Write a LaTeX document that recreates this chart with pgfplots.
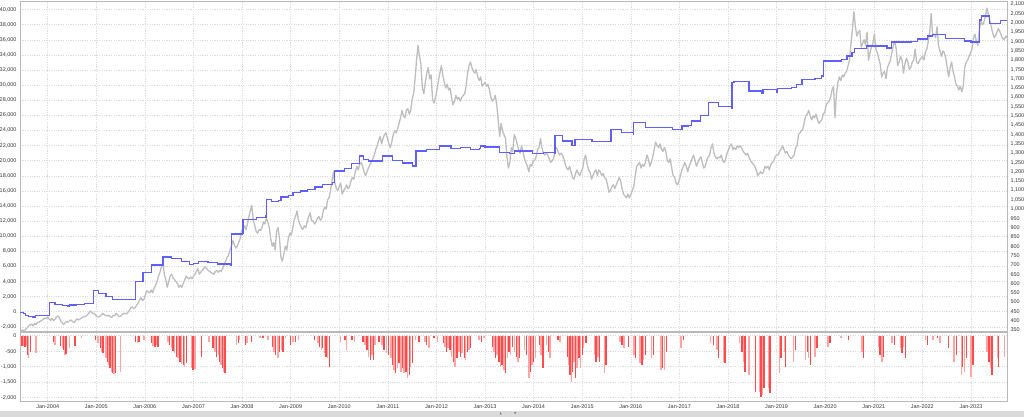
\documentclass[border=0pt]{standalone}
\usepackage{pgfplots}
\pgfplotsset{compat=1.18}
\usepackage{pgfplotstable}
\usepackage{fontspec}
\setmainfont{Liberation Sans}
\newfontfamily\symfont{DejaVu Sans}
\definecolor{eqblue}{RGB}{95,95,250}
\definecolor{goldgray}{RGB}{190,190,190}
\definecolor{ddred}{RGB}{255,75,75}
\definecolor{ddpink}{RGB}{255,165,165}
\definecolor{gridc}{RGB}{222,222,222}
\definecolor{framec}{RGB}{185,185,185}
\definecolor{labc}{RGB}{55,55,55}
\definecolor{scrollc}{RGB}{218,218,218}

\pgfplotstableread{
t v
2003.43 -100
2003.50 -250
2003.55 -500
2003.60 -650
2003.70 -700
2003.75 -500
2004.02 -500
2004.03 1250
2004.15 1000
2004.30 850
2004.40 750
2004.45 900
2004.60 1000
2004.75 1100
2004.94 1100
2004.95 2800
2005.05 2400
2005.20 2000
2005.34 1600
2005.79 1600
2005.80 4000
2005.95 4000
2005.96 5200
2006.12 5200
2006.13 6200
2006.36 6200
2006.37 7250
2006.55 7000
2006.75 6600
2006.92 6250
2007.00 6400
2007.10 6600
2007.30 6500
2007.50 6300
2007.77 6100
2007.78 10300
2008.00 10400
2008.02 12200
2008.30 12500
2008.49 12700
2008.50 14900
2008.60 14600
2008.75 14700
2008.80 15200
2008.95 15400
2009.05 15800
2009.20 15970
2009.35 16200
2009.50 16500
2009.65 16800
2009.86 17080
2009.90 18620
2010.10 19000
2010.25 19600
2010.41 20600
2010.50 20200
2010.60 19940
2010.88 19940
2010.89 20600
2011.10 20000
2011.30 19700
2011.50 19280
2011.57 19300
2011.58 21270
2011.80 21500
2012.06 21930
2012.30 21600
2012.50 21700
2012.70 21500
2012.88 21600
2012.90 21930
2013.00 21800
2013.30 21050
2013.50 20900
2013.60 21270
2013.97 20900
2014.20 21050
2014.43 20900
2014.44 23340
2014.60 22600
2014.79 22020
2014.85 22810
2015.20 22550
2015.58 22550
2015.59 24140
2015.80 23700
2016.05 23480
2016.06 25030
2016.30 24360
2016.85 24140
2017.05 24580
2017.19 24660
2017.25 25240
2017.43 26000
2017.60 27680
2017.80 27200
2018.07 26880
2018.08 30330
2018.12 30500
2018.43 29220
2018.70 28870
2018.72 29440
2019.00 29000
2019.02 29550
2019.30 29660
2019.41 30100
2019.52 30770
2019.79 30900
2019.93 31200
2019.96 33190
2020.34 33400
2020.45 33860
2020.55 34300
2020.60 34830
2020.79 34830
2020.85 35180
2021.10 35180
2021.27 34900
2021.37 35710
2021.78 35800
2021.90 36100
2022.10 36500
2022.20 36730
2022.47 36160
2022.87 35840
2023.00 35700
2023.17 35700
2023.18 38620
2023.22 39150
2023.30 39150
2023.38 38180
2023.55 38200
2023.60 38530
2023.74 38530
}\equity

\pgfplotstableread{
t p
2003.43 355
2003.46 346
2003.49 350
2003.52 345
2003.55 356
2003.58 362
2003.61 372
2003.64 378
2003.67 382
2003.70 372
2003.73 385
2003.76 380
2003.79 390
2003.82 392
2003.85 398
2003.88 402
2003.91 408
2003.94 415
2003.97 412
2004.00 420
2004.03 410
2004.06 402
2004.09 412
2004.12 400
2004.15 408
2004.18 420
2004.21 426
2004.24 418
2004.27 395
2004.30 388
2004.33 380
2004.36 390
2004.39 396
2004.42 392
2004.45 400
2004.48 404
2004.51 396
2004.54 390
2004.57 400
2004.60 410
2004.63 404
2004.66 408
2004.69 414
2004.72 418
2004.75 424
2004.78 422
2004.81 430
2004.84 438
2004.87 452
2004.90 446
2004.93 440
2004.96 438
2004.99 428
2005.02 422
2005.05 420
2005.08 426
2005.11 432
2005.14 440
2005.17 430
2005.20 428
2005.23 425
2005.26 430
2005.29 420
2005.32 418
2005.35 430
2005.38 426
2005.41 440
2005.44 430
2005.47 422
2005.50 425
2005.53 432
2005.56 438
2005.59 440
2005.62 436
2005.65 445
2005.68 455
2005.71 470
2005.74 474
2005.77 465
2005.80 470
2005.83 485
2005.86 495
2005.89 510
2005.92 525
2005.95 508
2005.98 515
2006.01 540
2006.04 560
2006.07 555
2006.10 550
2006.13 565
2006.16 550
2006.19 575
2006.22 590
2006.25 610
2006.28 640
2006.31 660
2006.34 690
2006.37 715
2006.40 650
2006.43 620
2006.46 580
2006.49 610
2006.52 640
2006.55 650
2006.58 630
2006.61 620
2006.64 610
2006.67 600
2006.70 580
2006.73 590
2006.76 580
2006.79 600
2006.82 620
2006.85 640
2006.88 630
2006.91 625
2006.94 635
2006.97 625
2007.00 640
2007.03 650
2007.06 665
2007.09 680
2007.12 650
2007.15 660
2007.18 670
2007.21 680
2007.24 690
2007.27 680
2007.30 670
2007.33 665
2007.36 660
2007.39 655
2007.42 650
2007.45 665
2007.48 670
2007.51 660
2007.54 670
2007.57 665
2007.60 680
2007.63 700
2007.66 720
2007.69 740
2007.72 750
2007.75 780
2007.78 800
2007.81 830
2007.84 810
2007.87 790
2007.90 800
2007.93 820
2007.96 840
2007.99 880
2008.02 900
2008.05 910
2008.08 890
2008.11 920
2008.14 960
2008.17 990
2008.20 1020
2008.23 940
2008.26 910
2008.29 880
2008.32 870
2008.35 890
2008.38 885
2008.41 900
2008.44 930
2008.47 920
2008.50 950
2008.53 930
2008.56 900
2008.59 840
2008.62 800
2008.65 820
2008.68 780
2008.71 880
2008.74 900
2008.77 840
2008.80 740
2008.83 720
2008.86 760
2008.89 800
2008.92 780
2008.95 840
2008.98 870
2009.01 860
2009.04 890
2009.07 940
2009.10 960
2009.13 990
2009.16 940
2009.19 920
2009.22 900
2009.25 890
2009.28 910
2009.31 900
2009.34 930
2009.37 960
2009.40 980
2009.43 940
2009.46 935
2009.49 920
2009.52 930
2009.55 950
2009.58 960
2009.61 940
2009.64 950
2009.67 990
2009.70 1010
2009.73 1000
2009.76 1050
2009.79 1060
2009.82 1100
2009.85 1150
2009.88 1200
2009.91 1140
2009.94 1110
2009.97 1100
2010.00 1120
2010.03 1140
2010.06 1080
2010.09 1100
2010.12 1110
2010.15 1130
2010.18 1110
2010.21 1120
2010.24 1150
2010.27 1170
2010.30 1160
2010.33 1200
2010.36 1230
2010.39 1210
2010.42 1240
2010.45 1250
2010.48 1230
2010.51 1200
2010.54 1180
2010.57 1200
2010.60 1220
2010.63 1240
2010.66 1250
2010.69 1270
2010.72 1290
2010.75 1320
2010.78 1340
2010.81 1370
2010.84 1390
2010.87 1350
2010.90 1380
2010.93 1400
2010.96 1410
2010.99 1380
2011.02 1350
2011.05 1330
2011.08 1360
2011.11 1400
2011.14 1420
2011.17 1410
2011.20 1430
2011.23 1460
2011.26 1490
2011.29 1530
2011.32 1500
2011.35 1490
2011.38 1530
2011.41 1540
2011.44 1510
2011.47 1530
2011.50 1590
2011.53 1620
2011.56 1700
2011.59 1800
2011.62 1880
2011.65 1820
2011.68 1780
2011.71 1650
2011.74 1620
2011.77 1680
2011.80 1730
2011.83 1760
2011.86 1700
2011.89 1720
2011.92 1590
2011.95 1570
2011.98 1600
2012.01 1640
2012.04 1690
2012.07 1730
2012.10 1770
2012.13 1720
2012.16 1680
2012.19 1650
2012.22 1670
2012.25 1640
2012.28 1650
2012.31 1600
2012.34 1560
2012.37 1580
2012.40 1610
2012.43 1590
2012.46 1600
2012.49 1580
2012.52 1600
2012.55 1610
2012.58 1620
2012.61 1660
2012.64 1730
2012.67 1770
2012.70 1790
2012.73 1760
2012.76 1740
2012.79 1730
2012.82 1750
2012.85 1710
2012.88 1690
2012.91 1710
2012.94 1660
2012.97 1670
2013.00 1680
2013.03 1660
2013.06 1670
2013.09 1640
2013.12 1600
2013.15 1580
2013.18 1590
2013.21 1610
2013.24 1560
2013.27 1480
2013.30 1390
2013.33 1460
2013.36 1420
2013.39 1400
2013.42 1380
2013.45 1280
2013.48 1220
2013.51 1250
2013.54 1330
2013.57 1310
2013.60 1400
2013.63 1380
2013.66 1350
2013.69 1320
2013.72 1300
2013.75 1340
2013.78 1310
2013.81 1270
2013.84 1250
2013.87 1230
2013.90 1200
2013.93 1240
2013.96 1230
2013.99 1260
2014.02 1260
2014.05 1280
2014.08 1320
2014.11 1330
2014.14 1380
2014.17 1330
2014.20 1300
2014.23 1290
2014.26 1300
2014.29 1290
2014.32 1270
2014.35 1250
2014.38 1260
2014.41 1270
2014.44 1320
2014.47 1330
2014.50 1310
2014.53 1290
2014.56 1300
2014.59 1290
2014.62 1270
2014.65 1240
2014.68 1220
2014.71 1210
2014.74 1230
2014.77 1200
2014.80 1170
2014.83 1160
2014.86 1190
2014.89 1210
2014.92 1190
2014.95 1180
2014.98 1200
2015.01 1220
2015.04 1270
2015.07 1290
2015.10 1240
2015.13 1210
2015.16 1200
2015.19 1160
2015.22 1180
2015.25 1200
2015.28 1210
2015.31 1180
2015.34 1210
2015.37 1200
2015.40 1180
2015.43 1190
2015.46 1170
2015.49 1160
2015.52 1130
2015.55 1090
2015.58 1100
2015.61 1120
2015.64 1130
2015.67 1110
2015.70 1130
2015.73 1150
2015.76 1170
2015.79 1150
2015.82 1110
2015.85 1080
2015.88 1070
2015.91 1060
2015.94 1080
2015.97 1060
2016.00 1080
2016.03 1100
2016.06 1120
2016.09 1180
2016.12 1230
2016.15 1240
2016.18 1250
2016.21 1220
2016.24 1240
2016.27 1230
2016.30 1250
2016.33 1290
2016.36 1270
2016.39 1230
2016.42 1250
2016.45 1280
2016.48 1320
2016.51 1360
2016.54 1340
2016.57 1330
2016.60 1350
2016.63 1320
2016.66 1310
2016.69 1330
2016.72 1310
2016.75 1260
2016.78 1250
2016.81 1270
2016.84 1220
2016.87 1180
2016.90 1170
2016.93 1140
2016.96 1130
2016.99 1150
2017.02 1180
2017.05 1210
2017.08 1230
2017.11 1250
2017.14 1230
2017.17 1200
2017.20 1230
2017.23 1250
2017.26 1270
2017.29 1290
2017.32 1260
2017.35 1230
2017.38 1250
2017.41 1270
2017.44 1280
2017.47 1250
2017.50 1220
2017.53 1230
2017.56 1260
2017.59 1280
2017.62 1290
2017.65 1330
2017.68 1350
2017.71 1300
2017.74 1280
2017.77 1270
2017.80 1280
2017.83 1275
2017.86 1290
2017.89 1260
2017.92 1250
2017.95 1270
2017.98 1300
2018.01 1320
2018.04 1340
2018.07 1350
2018.10 1320
2018.13 1330
2018.16 1320
2018.19 1340
2018.22 1330
2018.25 1340
2018.28 1330
2018.31 1310
2018.34 1300
2018.37 1290
2018.40 1300
2018.43 1280
2018.46 1260
2018.49 1250
2018.52 1240
2018.55 1230
2018.58 1210
2018.61 1180
2018.64 1190
2018.67 1200
2018.70 1190
2018.73 1200
2018.76 1230
2018.79 1220
2018.82 1230
2018.85 1210
2018.88 1240
2018.91 1250
2018.94 1260
2018.97 1280
2019.00 1290
2019.03 1290
2019.06 1310
2019.09 1320
2019.12 1340
2019.15 1320
2019.18 1300
2019.21 1310
2019.24 1290
2019.27 1280
2019.30 1270
2019.33 1280
2019.36 1290
2019.39 1330
2019.42 1340
2019.45 1400
2019.48 1410
2019.51 1420
2019.54 1430
2019.57 1470
2019.60 1500
2019.63 1510
2019.66 1530
2019.69 1500
2019.72 1480
2019.75 1500
2019.78 1490
2019.81 1510
2019.84 1480
2019.87 1460
2019.90 1470
2019.93 1480
2019.96 1510
2019.99 1520
2020.02 1560
2020.05 1570
2020.08 1580
2020.11 1600
2020.14 1640
2020.17 1660
2020.20 1490
2020.23 1620
2020.26 1680
2020.29 1710
2020.32 1690
2020.35 1720
2020.38 1710
2020.41 1730
2020.44 1740
2020.47 1770
2020.50 1800
2020.53 1890
2020.56 1970
2020.59 2060
2020.62 1980
2020.65 1930
2020.68 1950
2020.71 1960
2020.74 1870
2020.77 1890
2020.80 1910
2020.83 1880
2020.86 1950
2020.89 1800
2020.92 1840
2020.95 1870
2020.98 1890
2021.01 1940
2021.04 1860
2021.07 1840
2021.10 1810
2021.13 1780
2021.16 1710
2021.19 1730
2021.22 1740
2021.25 1700
2021.28 1760
2021.31 1780
2021.34 1800
2021.37 1840
2021.40 1880
2021.43 1900
2021.46 1860
2021.49 1770
2021.52 1790
2021.55 1820
2021.58 1800
2021.61 1730
2021.64 1780
2021.67 1810
2021.70 1790
2021.73 1750
2021.76 1760
2021.79 1790
2021.82 1800
2021.85 1860
2021.88 1790
2021.91 1780
2021.94 1800
2021.97 1810
2022.00 1820
2022.03 1800
2022.06 1840
2022.09 1860
2022.12 1900
2022.15 1950
2022.18 2050
2022.21 1930
2022.24 1940
2022.27 1920
2022.30 1980
2022.33 1880
2022.36 1850
2022.39 1820
2022.42 1850
2022.45 1840
2022.48 1810
2022.51 1760
2022.54 1710
2022.57 1760
2022.60 1790
2022.63 1740
2022.66 1710
2022.69 1670
2022.72 1660
2022.75 1640
2022.78 1660
2022.81 1630
2022.84 1660
2022.87 1760
2022.90 1790
2022.93 1800
2022.96 1820
2022.99 1840
2023.02 1860
2023.05 1920
2023.08 1940
2023.11 1900
2023.14 1880
2023.17 1960
2023.20 2010
2023.23 1990
2023.26 2000
2023.29 2030
2023.33 2080
2023.36 2040
2023.40 2000
2023.44 1950
2023.48 1920
2023.52 1940
2023.56 1970
2023.60 1950
2023.64 1920
2023.68 1910
2023.72 1930
2023.74 1920
}\gold

\pgfplotstableread{
t v
2003.45 -300
2003.47 -320
2003.50 -340
2003.53 -355
2003.56 -320
2003.58 -620
2003.61 -730
2003.64 -515
2003.76 -570
2004.12 -190
2004.15 -300
2004.27 -320
2004.30 -410
2004.33 -460
2004.36 -620
2004.38 -600
2004.45 -410
2004.56 -320
2004.70 -90
2004.99 -140
2005.04 -250
2005.08 -410
2005.11 -515
2005.14 -570
2005.20 -730
2005.23 -840
2005.25 -950
2005.28 -1050
2005.31 -1160
2005.34 -1215
2005.36 -1250
2005.39 -1215
2005.50 -1160
2005.81 -190
2005.85 -250
2005.88 -215
2005.98 -140
2006.14 -250
2006.17 -320
2006.21 -355
2006.24 -300
2006.27 -355
2006.48 -190
2006.51 -300
2006.55 -410
2006.58 -495
2006.61 -570
2006.65 -680
2006.68 -730
2006.72 -840
2006.75 -925
2006.79 -950
2006.82 -1000
2006.85 -890
2006.96 -1050
2006.99 -1110
2007.03 -1075
2007.16 -680
2007.32 -190
2007.40 -410
2007.44 -515
2007.47 -680
2007.51 -620
2007.54 -840
2007.57 -950
2007.60 -1050
2007.62 -1160
2007.65 -1215
2007.88 -300
2007.92 -250
2007.95 -140
2008.07 -300
2008.10 -250
2008.19 -190
2008.37 -90
2008.43 -65
2008.53 -140
2008.63 -355
2008.66 -515
2008.69 -620
2008.74 -730
2008.77 -515
2008.81 -460
2008.84 -515
2008.89 -90
2009.00 -300
2009.05 -190
2009.10 -215
2009.16 -140
2009.49 -140
2009.56 -250
2009.59 -355
2009.63 -460
2009.66 -410
2009.70 -570
2009.73 -680
2009.76 -730
2009.80 -1000
2010.03 -190
2010.12 -140
2010.15 -460
2010.26 -140
2010.31 -190
2010.49 -190
2010.53 -300
2010.57 -460
2010.60 -680
2010.64 -785
2010.67 -620
2010.70 -785
2010.74 -300
2010.82 -190
2010.88 -300
2010.92 -460
2010.97 -570
2011.01 -620
2011.06 -730
2011.10 -950
2011.13 -1110
2011.16 -1215
2011.20 -1050
2011.23 -890
2011.27 -1160
2011.30 -1050
2011.33 -1215
2011.37 -1160
2011.40 -1375
2011.44 -1270
2011.47 -1000
2011.51 -890
2011.57 -140
2011.64 -190
2011.76 -190
2011.79 -300
2011.85 -410
2011.95 -90
2012.02 -190
2012.14 -250
2012.18 -355
2012.21 -515
2012.24 -410
2012.28 -460
2012.31 -680
2012.35 -840
2012.38 -1000
2012.42 -730
2012.46 -515
2012.50 -680
2012.53 -570
2012.57 -730
2012.60 -785
2012.64 -515
2012.67 -460
2012.70 -410
2012.87 -140
2012.93 -190
2012.98 -90
2013.15 -355
2013.18 -515
2013.22 -730
2013.25 -620
2013.29 -840
2013.32 -1000
2013.35 -950
2013.39 -1110
2013.42 -1215
2013.46 -730
2013.49 -515
2013.52 -620
2013.56 -355
2013.61 -515
2013.64 -680
2013.68 -840
2013.71 -730
2013.81 -460
2013.85 -620
2013.90 -1375
2013.94 -1160
2013.97 -950
2014.00 -840
2014.04 -730
2014.12 -300
2014.15 -620
2014.19 -1050
2014.26 -300
2014.30 -515
2014.34 -730
2014.50 -140
2014.54 -190
2014.70 -680
2014.72 -950
2014.75 -1270
2014.78 -1480
2014.80 -1160
2014.83 -840
2014.86 -1375
2014.89 -1050
2014.93 -730
2014.96 -1050
2015.00 -620
2015.03 -410
2015.08 -250
2015.12 -355
2015.22 -410
2015.25 -620
2015.28 -840
2015.32 -680
2015.35 -840
2015.39 -785
2015.42 -1050
2015.46 -1215
2015.49 -950
2015.54 -1430
2015.58 -300
2015.78 -190
2015.82 -300
2015.86 -410
2015.95 -355
2015.99 -515
2016.02 -680
2016.06 -620
2016.09 -730
2016.13 -515
2016.16 -730
2016.19 -890
2016.23 -950
2016.26 -785
2016.30 -620
2016.34 -410
2016.38 -570
2016.42 -730
2016.46 -620
2016.54 -460
2016.58 -840
2016.62 -1110
2016.65 -1050
2016.69 -1110
2016.73 -515
2016.76 -300
2017.00 -730
2017.03 -410
2017.08 -140
2017.25 -250
2017.40 -140
2017.64 -250
2017.70 -300
2017.77 -460
2017.80 -730
2017.84 -620
2017.87 -785
2017.91 -840
2017.94 -890
2018.16 -90
2018.20 -190
2018.24 -250
2018.29 -515
2018.32 -840
2018.35 -1160
2018.38 -1375
2018.40 -1645
2018.43 -1270
2018.57 -1805
2018.60 -1860
2018.62 -1590
2018.66 -1805
2018.68 -1970
2018.71 -1915
2018.74 -1700
2018.77 -1480
2018.80 -1270
2018.83 -1700
2018.86 -1860
2019.01 -410
2019.03 -840
2019.06 -1215
2019.09 -730
2019.16 -515
2019.18 -1000
2019.22 -680
2019.32 -620
2019.35 -840
2019.39 -460
2019.53 -300
2019.56 -620
2019.59 -785
2019.63 -515
2019.66 -730
2019.70 -950
2019.73 -840
2019.76 -1110
2019.79 -680
2019.83 -410
2019.87 -515
2020.01 -140
2020.06 -355
2020.10 -250
2020.32 -90
2020.48 -140
2020.69 -190
2020.72 -355
2020.76 -515
2020.79 -730
2020.93 -250
2020.97 -410
2021.10 -355
2021.13 -620
2021.17 -840
2021.20 -680
2021.24 -785
2021.28 -515
2021.37 -250
2021.42 -300
2021.48 -300
2021.51 -460
2021.55 -410
2021.58 -570
2021.61 -355
2021.65 -730
2021.69 -515
2021.88 -90
2022.06 -140
2022.10 -300
2022.14 -410
2022.18 -250
2022.22 -140
2022.31 -90
2022.36 -250
2022.54 -410
2022.57 -570
2022.61 -730
2022.65 -840
2022.70 -620
2022.73 -950
2022.76 -1110
2022.80 -1270
2022.83 -1000
2022.87 -1160
2022.91 -730
2022.93 -1270
2022.97 -1215
2023.00 -1320
2023.04 -950
2023.12 -140
2023.17 -300
2023.33 -515
2023.37 -840
2023.40 -1050
2023.43 -1270
2023.47 -890
2023.50 -1000
2023.54 -730
2023.57 -1000
2023.61 -840
2023.65 -620
2023.69 -680
}\drawdown

\pgfplotsset{
  base/.style={
    scale only axis, width=987bp,
    xmin=2003.43, xmax=2023.74,
    xtick={2004,...,2023},
    scaled x ticks=false, scaled y ticks=false,
    major tick length=0pt, minor tick length=0pt,
    axis line style={framec, line width=0.6bp},
    tick label style={font=\fontsize{5.5}{6.5}\selectfont, text=labc},
    /pgf/number format/assume math mode=true,
    /pgf/number format/1000 sep={,},
    grid style={gridc, dash pattern=on 1.2bp off 1.2bp, line width=0.5bp},
  },
}

\begin{document}
\begin{tikzpicture}
\path[use as bounding box, fill=white] (0,0) rectangle (1024bp,-417bp);

% top panel: frame, grid, left ticks
\begin{axis}[base, at={(20bp,-1bp)}, anchor=north west, height=330.5bp,
  ymin=-2621, ymax=41137, ytick={-2000,0,...,40000},
  xticklabels={}, grid=major]
\end{axis}

% right axis: gold price
\begin{axis}[base, at={(20bp,-1bp)}, anchor=north west, height=330.5bp,
  ymin=342, ymax=2117.7, ytick={350,400,...,2100},
  axis x line=none, axis y line*=right]
\addplot[goldgray, line width=1.3bp, line join=round] table[x=t, y=p]{\gold};
\end{axis}

% left axis: equity (step line)
\begin{axis}[base, at={(20bp,-1bp)}, anchor=north west, height=330.5bp,
  ymin=-2621, ymax=41137, hide axis]
\addplot[draw=eqblue, line width=1.25bp, const plot] table[x=t, y=v]{\equity};
\end{axis}

% bottom panel: drawdown bars
\begin{axis}[base, at={(20bp,-332.5bp)}, anchor=north west, height=68.5bp,
  ymin=-2107, ymax=103, ytick={-2000,-1500,...,0},
  xticklabels={Jan-2004,Jan-2005,Jan-2006,Jan-2007,Jan-2008,Jan-2009,Jan-2010,Jan-2011,Jan-2012,Jan-2013,Jan-2014,Jan-2015,Jan-2016,Jan-2017,Jan-2018,Jan-2019,Jan-2020,Jan-2021,Jan-2022,Jan-2023},
  grid=major]
\addplot[ycomb, ddpink, line width=1.5bp, mark=none,
  x filter/.expression={mod(\coordindex,2)==0 ? x : nan}] table[x=t, y=v]{\drawdown};
\addplot[ycomb, ddred, line width=1.35bp, mark=none,
  x filter/.expression={mod(\coordindex,2)==1 ? x : nan}] table[x=t, y=v]{\drawdown};
\end{axis}

% scrollbar strip
\fill[scrollc] (0,-410.5bp) rectangle (1024bp,-417bp);
\node[font=\symfont\fontsize{3}{3}\selectfont, text=black!55, inner sep=0pt]
  at (508bp,-413.8bp) {▲\hspace{2bp}·\hspace{1.5bp}·\hspace{1.5bp}·\hspace{1.5bp}·\hspace{2bp}▼};
\end{tikzpicture}
\end{document}
